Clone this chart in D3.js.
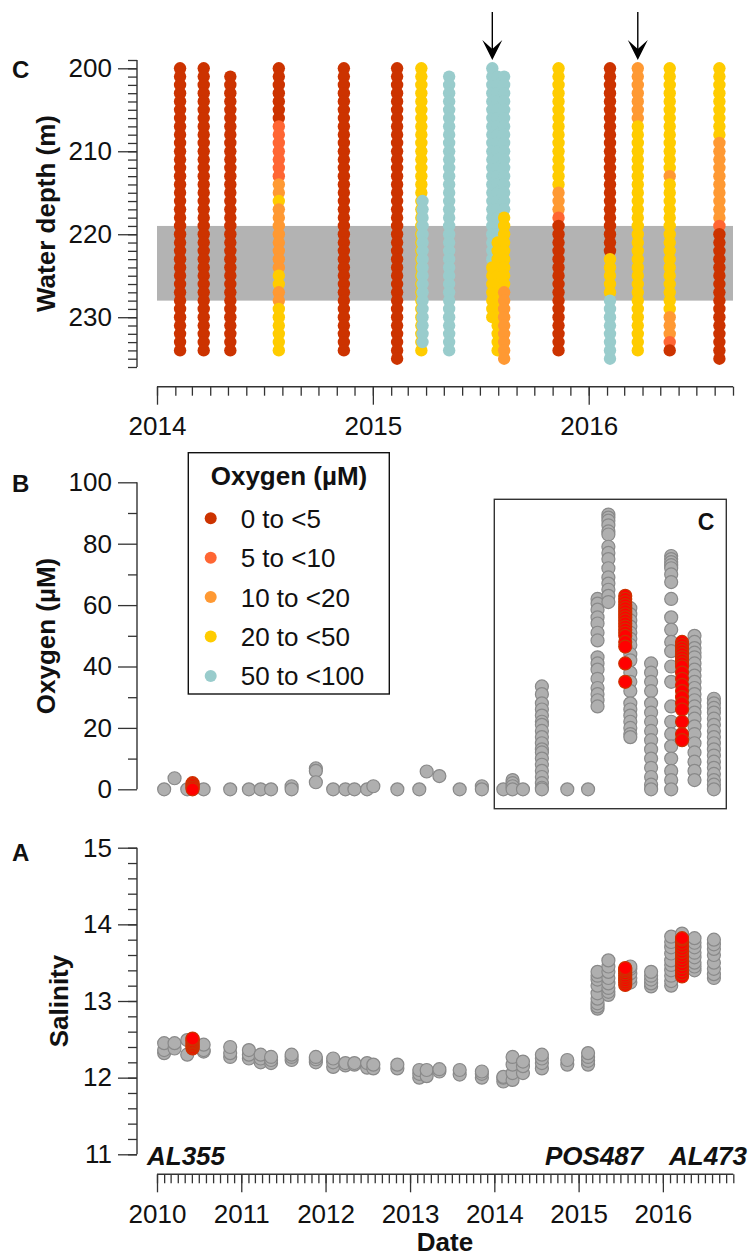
<!DOCTYPE html>
<html><head><meta charset="utf-8">
<script src="https://cdn.jsdelivr.net/npm/d3@7"></script>
<style>
body{margin:0;background:#fff}
svg{display:block}
text{font-family:"Liberation Sans",Arial,sans-serif;fill:#111}
</style>
</head><body>
<svg id="chart" width="752" height="1258"></svg>
<script>
// ---------------- DATA ----------------
const classLabels = ["0 to <5", "5 to <10", "10 to <20", "20 to <50", "50 to <100"];
const classColors = ["#CC3300", "#FF6633", "#FF9933", "#FFCC00", "#99CCCC"];

// Panel C: oxygen class per 1 m depth step, starting at profileTop (m)
const profileDates = ["2014-02-09","2014-03-21","2014-05-05","2014-07-26","2014-11-13","2015-02-11",
  "2015-03-24","2015-03-26","2015-05-10","2015-07-22","2015-07-31","2015-08-11",
  "2015-11-11","2016-02-06","2016-03-24","2016-05-17","2016-08-09"];
const profileTop = [200,200,201,200,200,200, 200,216,201,200,201,201, 200,200,200,200,200];
const profileClasses = [
  "00000000000000000000000000000000000",
  "00000000000000000000000000000000000",
  "0000000000000000000000000000000000",
  "00000001111111223222222223322333333",
  "00000000000000000000000000000000000",
  "000000000000000000000000000000000000",
  "33333333333333333333333333333333333",
  "444444444444444444",
  "4444444444444444444444444444444444",
  "4444444444444444444444443333333",
  "4444444444444444444433333333333333",
  "44444444444444444333333333222222222",
  "33333333333333322210000000000000000",
  "000000000000000000000003333344444444",
  "22222223333333333333333333333333333",
  "33333333333332333333333333333322210",
  "333333333222222222210000000000000000"
];
const arrowDates = ["2015-07-22", "2016-03-24"];
const bandDepths = [219, 228];

// Panel B: oxygen (µM), gray = all casts, red = highlighted depth interval
const oxygenGray = [
  ["2010-02-01",[0]],["2010-03-18",[3.6]],["2010-05-12",[0]],["2010-07-22",[0]],
  ["2010-11-14",[0]],["2011-02-03",[0]],["2011-03-26",[0]],["2011-05-10",[0]],
  ["2011-08-07",[1,0]],["2011-11-20",[6.8,6,2.3]],["2012-02-03",[0]],["2012-03-27",[0]],
  ["2012-05-05",[0]],["2012-06-29",[0]],["2012-07-26",[1]],["2012-11-07",[0]],
  ["2013-02-10",[0]],["2013-03-14",[5.8]],["2013-05-08",[4.3]],["2013-08-04",[0]],
  ["2013-11-08",[1,0]],["2014-02-09",[0]],["2014-03-21",[3,2,1,0]],["2014-05-05",[0]],
  ["2014-07-26",[33.5,31,28,26,24,22,21,19,17,15,13,12,10,8,6,4,2,0.5,0]],
  ["2014-11-13",[0]],["2015-02-11",[0]],
  ["2015-03-24",[62,60.5,58.5,56,54,51,48.5,43,41,39,36,33,31,29,27]],
  ["2015-05-10",[89.5,88.5,87.5,86,84,83,79,77,75,72,69,67,65,63,61]],
  ["2015-08-13",[59,57,55,53,51,49,47,44,42,38,35,32,28,26,24,22,20,18,17]],
  ["2015-11-11",[41,38,35,32,28,25,22,19,16,13,10,7,4,1.5,0]],
  ["2016-02-06",[76,75,74,73,72,70,67.5,62,56,52,48,45,40,35,27,22,18,14,10,6,3,0]],
  ["2016-05-17",[50,48,46,44.5,43,41,39,37,35,33,31,29,27,25,23,20.5,18,15,12,9,6,3]],
  ["2016-08-09",[29.5,28,26.5,25,23,21,19,17,15,13,11,9,7,5,3,1.5,0]]
];
const oxygenRed = [
  ["2010-06-04",[2,1.5,1,0.5,0]],
  ["2015-07-22",[63,62,61,60,59,58,57,56,55,54,53,52,51,50,48,46.5,41,35]],
  ["2016-03-24",[48,47,46,45,44,43,42,41,40,38,36,34,32,30,28,26,22,18,16]]
];

// Panel A: salinity
const salinityGray = [
  ["2010-02-01",[12.32,12.36,12.45]],["2010-03-18",[12.38,12.45]],["2010-05-12",[12.30,12.49]],
  ["2010-07-22",[12.34,12.36,12.43]],["2010-11-14",[12.27,12.32,12.40]],["2011-02-03",[12.25,12.30,12.36]],
  ["2011-03-26",[12.20,12.25,12.30]],["2011-05-10",[12.19,12.23,12.27]],["2011-08-07",[12.23,12.27,12.30]],
  ["2011-11-20",[12.20,12.24,12.27]],["2012-02-03",[12.14,12.20,12.25]],["2012-03-27",[12.16,12.19]],
  ["2012-05-05",[12.17,12.19]],["2012-06-29",[12.13,12.19]],["2012-07-26",[12.12,12.17]],
  ["2012-11-07",[12.12,12.17]],["2013-02-10",[12.00,12.05,12.10]],["2013-03-14",[12.02,12.10]],
  ["2013-05-08",[12.08,12.11]],["2013-08-04",[12.04,12.10]],["2013-11-08",[12.00,12.05,12.08]],
  ["2014-02-09",[11.95,12.00,12.01]],["2014-03-21",[11.97,12.06,12.17,12.27]],["2014-05-05",[12.06,12.15,12.21]],
  ["2014-07-26",[12.12,12.19,12.25,12.30]],["2014-11-13",[12.17,12.23]],["2015-02-11",[12.17,12.22,12.27,12.32]],
  ["2015-03-24",[12.90,12.93,12.97,13.03,13.10,13.20,13.28,13.33,13.38]],
  ["2015-05-10",[13.08,13.12,13.17,13.23,13.30,13.38,13.45,13.53]],
  ["2015-08-13",[13.24,13.30,13.36,13.42,13.45]],
  ["2015-11-11",[13.19,13.23,13.28,13.33,13.38]],
  ["2016-02-06",[13.20,13.26,13.33,13.40,13.47,13.53,13.62,13.70,13.77,13.84]],
  ["2016-03-24",[13.88]],
  ["2016-05-17",[13.40,13.45,13.50,13.57,13.63,13.70,13.76,13.82]],
  ["2016-08-09",[13.30,13.35,13.42,13.50,13.60,13.68,13.74,13.80]]
];
const salinityRed = [
  ["2010-06-04",[12.38,12.40,12.42,12.44,12.46,12.48,12.50,12.51]],
  ["2015-07-22",[13.21,13.24,13.27,13.30,13.33,13.36,13.39,13.41,13.43]],
  ["2016-03-24",[13.32,13.36,13.40,13.44,13.48,13.52,13.56,13.60,13.64,13.68,13.72,13.76,13.80,13.82]]
];

const depthMajor = [200,210,220,230];
const oxygenMajor = [0,20,40,60,80,100];
const salinityMajor = [11,12,13,14,15];
const cruiseLabels = ["AL355","POS487","AL473"];

// ---------------- DRAW ----------------
const parse = d3.timeParse("%Y-%m-%d");
const svg = d3.select("#chart");
const FONT = '"Liberation Sans",Arial,sans-serif';
const AX = "#333";

const xC = d3.scaleTime().domain([new Date(2014,0,1), new Date(2016,8,1)]).range([157,733]);
const yC = d3.scaleLinear().domain([199,236]).range([60,367]);
const xAB = d3.scaleTime().domain([new Date(2010,0,1), new Date(2016,10,1)]).range([157,733.3]);
const yB = d3.scaleLinear().domain([0,100]).range([789.3,482.3]);
const yA = d3.scaleLinear().domain([11,15]).range([1154.3,847.7]);

function styleAxis(g){
  g.attr("font-family", FONT).attr("font-size", 26);
  g.selectAll(".tick line").attr("stroke", AX).attr("stroke-width", 1.3);
  g.selectAll(".tick text").attr("fill", "#111");
  g.select(".domain").remove();
}
function yAxis(scale, major, minor, fmt){
  const x0 = 137;
  const gm = svg.append("g").attr("transform", `translate(${x0},0)`)
    .call(d3.axisLeft(scale).tickValues(minor).tickSize(9).tickFormat(""));
  styleAxis(gm);
  const gM = svg.append("g").attr("transform", `translate(${x0},0)`)
    .call(d3.axisLeft(scale).tickValues(major).tickSize(19).tickPadding(6).tickFormat(fmt));
  styleAxis(gM);
  const r = scale.range();
  svg.append("line").attr("x1", x0).attr("x2", x0).attr("y1", r[0]).attr("y2", r[1])
    .attr("stroke", AX).attr("stroke-width", 1.4);
}
function xAxis(scale, y0, pad){
  const d = scale.domain();
  const months = d3.timeMonth.range(d[0], d3.timeDay.offset(d[1],1));
  const years = d3.timeYear.range(d[0], d3.timeDay.offset(d[1],1));
  const gm = svg.append("g").attr("transform", `translate(0,${y0})`)
    .call(d3.axisBottom(scale).tickValues(months).tickSize(9).tickFormat(""));
  styleAxis(gm);
  const gM = svg.append("g").attr("transform", `translate(0,${y0})`)
    .call(d3.axisBottom(scale).tickValues(years).tickSize(18).tickPadding(pad).tickFormat(d3.timeFormat("%Y")));
  styleAxis(gM);
  const r = scale.range();
  svg.append("line").attr("x1", r[0]).attr("x2", r[1]).attr("y1", y0).attr("y2", y0)
    .attr("stroke", AX).attr("stroke-width", 1.4);
}

// ---- Panel C ----
svg.append("rect")
  .attr("x", xC.range()[0]).attr("width", xC.range()[1] - xC.range()[0])
  .attr("y", yC(bandDepths[0])).attr("height", yC(bandDepths[1]) - yC(bandDepths[0]))
  .attr("fill", "#B3B3B3");

const cDots = [];
profileDates.forEach((d, i) => {
  const s = profileClasses[i];
  for (let k = 0; k < s.length; k++) {
    cDots.push({date: parse(d), depth: profileTop[i] + k, cls: +s[k]});
  }
});
svg.append("g").selectAll("circle").data(cDots).join("circle")
  .attr("cx", d => xC(d.date)).attr("cy", d => yC(d.depth)).attr("r", 6.2)
  .attr("fill", d => classColors[d.cls]);

yAxis(yC, depthMajor, d3.range(199, 237), d3.format("d"));
xAxis(xC, 386.7, 12);

// arrows
arrowDates.forEach(d => {
  const x = xC(parse(d));
  svg.append("line").attr("x1", x).attr("x2", x).attr("y1", 12).attr("y2", 52)
    .attr("stroke", "#000").attr("stroke-width", 1.4);
  svg.append("path")
    .attr("d", `M${x},${60} L${x-10},${40} L${x},${49} L${x+10},${40} Z`)
    .attr("fill", "#000");
});

// ---- Panel B ----
function pts(arr){
  const out = [];
  arr.forEach(([d, vals]) => vals.forEach(v => out.push({date: parse(d), v})));
  return out;
}
svg.append("g").selectAll("circle").data(pts(oxygenGray)).join("circle")
  .attr("cx", d => xAB(d.date)).attr("cy", d => yB(d.v)).attr("r", 6.5)
  .attr("fill", "#AFAFAF").attr("stroke", "#898989").attr("stroke-width", 1.2);
svg.append("g").selectAll("circle").data(pts(oxygenRed)).join("circle")
  .attr("cx", d => xAB(d.date)).attr("cy", d => yB(d.v)).attr("r", 6.5)
  .attr("fill", "#FF0000").attr("stroke", "#CC3300").attr("stroke-width", 1.2);

yAxis(yB, oxygenMajor, [10,30,50,70,90], d3.format("d"));

// inset box marking panel C range
svg.append("rect").attr("x", 494.3).attr("y", 499.3).attr("width", 232).attr("height", 309.4)
  .attr("fill", "none").attr("stroke", "#333").attr("stroke-width", 1.4);
svg.append("text").attr("x", 706).attr("y", 530).attr("text-anchor", "middle")
  .attr("font-weight", "bold").attr("font-size", 23).text("C");

// legend
const lg = svg.append("g");
lg.append("rect").attr("x", 188.3).attr("y", 452.7).attr("width", 201).attr("height", 241.3)
  .attr("fill", "#fff").attr("stroke", "#111").attr("stroke-width", 1.4);
lg.append("text").attr("x", 289).attr("y", 485).attr("text-anchor", "middle")
  .attr("font-weight", "bold").attr("font-size", 26).text("Oxygen (\u00B5M)");
classLabels.forEach((lab, i) => {
  const cy = 518.3 + i * 39.4;
  lg.append("circle").attr("cx", 210.7).attr("cy", cy).attr("r", 6).attr("fill", classColors[i]);
  lg.append("text").attr("x", 240.7).attr("y", cy + 9.5).attr("font-size", 26).text(lab);
});

// ---- Panel A ----
svg.append("g").selectAll("circle").data(pts(salinityGray)).join("circle")
  .attr("cx", d => xAB(d.date)).attr("cy", d => yA(d.v)).attr("r", 6.5)
  .attr("fill", "#AFAFAF").attr("stroke", "#898989").attr("stroke-width", 1.2);
svg.append("g").selectAll("circle").data(pts(salinityRed)).join("circle")
  .attr("cx", d => xAB(d.date)).attr("cy", d => yA(d.v)).attr("r", 6.5)
  .attr("fill", "#FF0000").attr("stroke", "#CC3300").attr("stroke-width", 1.2);

yAxis(yA, salinityMajor, d3.range(11, 15.001, 0.2), d3.format("d"));
xAxis(xAB, 1174.3, 12.7);

// cruise labels
[[cruiseLabels[0],147],[cruiseLabels[1],545],[cruiseLabels[2],669]].forEach(([t,x]) => {
  svg.append("text").attr("x", x).attr("y", 1165).attr("font-size", 26)
    .attr("font-weight", "bold").attr("font-style", "italic").text(t);
});

// titles and panel letters
function vtitle(t, x, y){
  svg.append("text").attr("transform", `translate(${x},${y}) rotate(-90)`)
    .attr("text-anchor", "middle").attr("font-weight", "bold").attr("font-size", 26).text(t);
}
vtitle("Water depth (m)", 55, 213.5);
vtitle("Oxygen (\u00B5M)", 55, 636);
vtitle("Salinity", 68, 1001);
svg.append("text").attr("x", 445).attr("y", 1251).attr("text-anchor", "middle")
  .attr("font-weight", "bold").attr("font-size", 26).text("Date");
[["C",78],["B",492],["A",861]].forEach(([t,y]) => {
  svg.append("text").attr("x", 12).attr("y", y).attr("font-weight", "bold").attr("font-size", 24).text(t);
});
</script>
</body></html>
